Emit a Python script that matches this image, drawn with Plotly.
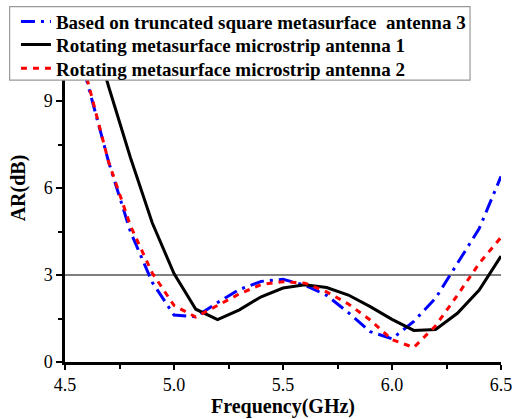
import plotly.graph_objects as go

# Data
freq_blue = [4.5, 4.6, 4.7, 4.8, 4.9, 5.0, 5.1, 5.2, 5.3, 5.4, 5.5, 5.6, 5.7, 5.8, 5.9, 6.0, 6.1, 6.2, 6.3, 6.4, 6.5]
ar_blue = [13.0, 9.7, 6.9, 4.5, 2.75, 1.62, 1.56, 2.05, 2.5, 2.78, 2.85, 2.65, 2.3, 1.7, 1.05, 0.8, 1.4, 2.2, 3.4, 4.6, 6.4]

freq_black = [4.5, 4.6, 4.7, 4.8, 4.9, 5.0, 5.1, 5.2, 5.3, 5.4, 5.5, 5.6, 5.7, 5.8, 5.9, 6.0, 6.1, 6.2, 6.3, 6.4, 6.5]
ar_black = [15.0, 12.1, 9.5, 7.05, 4.8, 3.05, 1.82, 1.46, 1.8, 2.25, 2.55, 2.66, 2.57, 2.31, 1.91, 1.47, 1.09, 1.12, 1.68, 2.48, 3.65]

freq_red = [4.5, 4.6, 4.7, 4.8, 4.9, 5.0, 5.1, 5.2, 5.3, 5.4, 5.5, 5.6, 5.7, 5.8, 5.9, 6.0, 6.1, 6.2, 6.3, 6.4, 6.5]
ar_red = [13.0, 9.8, 6.9, 4.7, 3.07, 1.95, 1.55, 1.95, 2.35, 2.67, 2.77, 2.72, 2.42, 2.0, 1.45, 0.77, 0.5, 1.25, 2.3, 3.4, 4.3]

names = [
    "Based on truncated square metasurface\u00a0 antenna 3",
    "Rotating metasurface microstrip antenna 1",
    "Rotating metasurface microstrip antenna 2",
]
x_ticks = [4.5, 5.0, 5.5, 6.0, 6.5]
x_ticktext = ["4.5", "5.0", "5.5", "6.0", "6.5"]
y_ticks = [0, 3, 6, 9, 12]
y_ticktext = ["0", "3", "6", "9", "12"]
ref_level = 3

SERIF = "Liberation Serif, Times New Roman, Times, serif"

fig = go.Figure()
fig.add_trace(go.Scatter(x=freq_blue, y=ar_blue, mode="lines", name=names[0], legend="legend",
                         line=dict(color="#0000FF", width=3, dash="14px,6px,3px,6px")))
fig.add_trace(go.Scatter(x=freq_black, y=ar_black, mode="lines", name=names[1], legend="legend2",
                         line=dict(color="#000000", width=3)))
fig.add_trace(go.Scatter(x=freq_red, y=ar_red, mode="lines", name=names[2], legend="legend3",
                         line=dict(color="#FF0000", width=3, dash="6px,6px")))

fig.add_shape(type="line", xref="x", yref="y", x0=4.5, x1=6.5, y0=ref_level, y1=ref_level,
              line=dict(color="black", width=1), layer="below")

# legend frame
fig.add_shape(type="rect", xref="paper", yref="paper", x0=-0.127, x1=0.929, y0=0.810, y1=1.021,
              fillcolor="white", line=dict(color="#999999", width=1.2), layer="above")

legfont = dict(family=SERIF, size=19, color="black", weight="bold")


def leg(yc):
    return dict(x=-0.1125, y=yc, xanchor="left", yanchor="middle", bgcolor="rgba(0,0,0,0)",
                borderwidth=0, font=legfont, itemwidth=30)


tickfont = dict(family=SERIF, size=18, color="black")
fig.update_layout(
    width=515, height=419,
    margin=dict(l=65, r=14, t=14, b=57, autoexpand=False),
    paper_bgcolor="white", plot_bgcolor="white",
    font=dict(family=SERIF),
    showlegend=True,
    legend=leg(0.978),
    legend2=leg(0.912),
    legend3=leg(0.844),
    xaxis=dict(range=[4.5, 6.5], tickvals=x_ticks, ticktext=x_ticktext, automargin=False,
               showgrid=False, zeroline=False, showline=True, linecolor="black", linewidth=2.5,
               ticks="outside", ticklen=5, tickwidth=2, tickcolor="black", tickfont=tickfont,
               minor=dict(tick0=4.5, dtick=0.25, ticks="outside", ticklen=4, tickwidth=2, tickcolor="black"),
               title=dict(text="Frequency(GHz)", standoff=2,
                          font=dict(family=SERIF, size=20, color="black", weight="bold"))),
    yaxis=dict(range=[0, 12], tickvals=y_ticks, ticktext=y_ticktext, automargin=False,
               showgrid=False, zeroline=False, showline=True, linecolor="black", linewidth=2.5,
               ticks="outside", ticklen=6, tickwidth=2, tickcolor="black", tickfont=tickfont,
               minor=dict(tick0=0, dtick=1.5, ticks="outside", ticklen=4, tickwidth=2, tickcolor="black"),
               title=dict(text="AR(dB)", standoff=4,
                          font=dict(family=SERIF, size=20, color="black", weight="bold"))),
)

fig.write_html("out.html")
